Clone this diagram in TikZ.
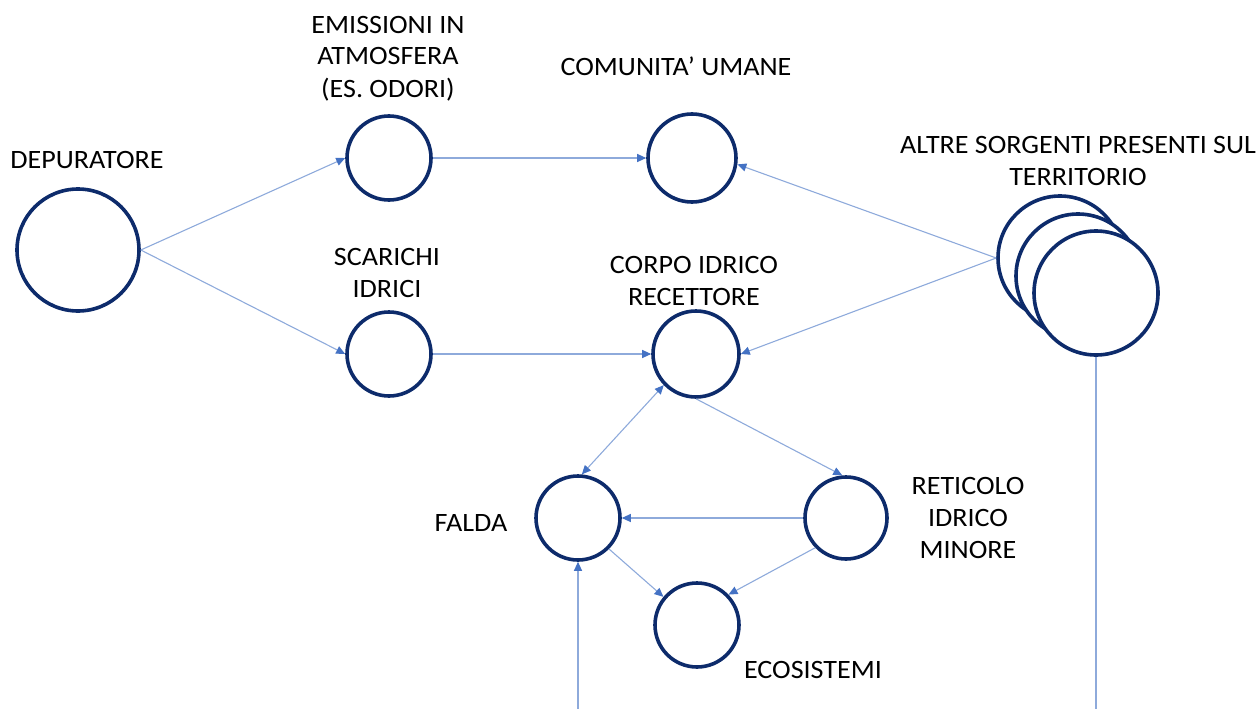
\documentclass[tikz,border=0pt]{standalone}
\usepackage{fontspec}
\setmainfont{Carlito}[FakeStretch=1.06]
\usetikzlibrary{arrows.meta}
\definecolor{navy}{HTML}{0D2B6B}
\definecolor{lnblue}{HTML}{8EAADB}
\definecolor{arrblue}{HTML}{4472C4}
\begin{document}
\begin{tikzpicture}[x=1pt,y=-1pt,
  ring/.style={circle,draw=navy,line width=3.6pt,inner sep=0pt,minimum size=#1},
  lbl/.style={font=\fontsize{26.5}{32}\selectfont,align=center,anchor=base,inner sep=0pt,text=black},
  conn/.style={draw=lnblue,line width=1.1pt,-{Triangle[length=9pt,width=8pt,color=arrblue]}},
  bconn/.style={draw=lnblue,line width=1.1pt,{Triangle[length=9pt,width=8pt,color=arrblue]}-{Triangle[length=9pt,width=8pt,color=arrblue]}},
  plain/.style={draw=lnblue,line width=1.1pt}]
\useasboundingbox (0,0) rectangle (1258,709);
% circles
\node[ring=122pt] (dep) at (78,250) {};
\node[ring=84pt] (emi) at (389,158) {};
\node[ring=84pt] (sca) at (389,354) {};
\node[ring=88pt] (com) at (692,158) {};
\node[ring=86pt] (cor) at (696,354) {};
\node[ring=84pt] (fal) at (578,518) {};
\node[ring=82pt] (ret) at (846,518) {};
\node[ring=84pt] (eco) at (697,625) {};
\node[ring=124pt,fill=white] (alt1) at (1060,258) {};
\node[ring=124pt,fill=white] (alt2) at (1078,276) {};
\node[ring=124pt,fill=white] (alt3) at (1096,293) {};
% free ends
\coordinate (bfal) at (578,709);
\coordinate (balt) at (1096,709);
% labels (anchor = baseline of last line)
\node[lbl] (ldep) at (87,168) {DEPURATORE};
\node[lbl] (lemi) at (388,97) {EMISSIONI IN\\ATMOSFERA\\(ES. ODORI)};
\node[lbl] (lcom) at (676,75) {COMUNITA' UMANE};
\node[lbl] (lalt) at (1078,185) {ALTRE SORGENTI PRESENTI SUL\\TERRITORIO};
\node[lbl] (lsca) at (387,297) {SCARICHI\\IDRICI};
\node[lbl] (lcor) at (694,305) {CORPO IDRICO\\RECETTORE};
\node[lbl] (lfal) at (471,531) {FALDA};
\node[lbl] (lret) at (968,558) {RETICOLO\\IDRICO\\MINORE};
\node[lbl] (leco) at (813,678) {ECOSISTEMI};
% connectors
\draw[conn] (dep.east) -- (emi.west);
\draw[conn] (dep.east) -- (sca.west);
\draw[conn] (emi.east) -- (com.west);
\draw[conn] (sca.east) -- (cor.west);
\draw[conn] (alt1.west) -- (com.-8);
\draw[conn] (alt1.west) -- (cor.east);
\draw[bconn] (cor.224) -- (fal.85);
\draw[conn] (cor.south) -- (ret.95);
\draw[conn] (ret.west) -- (fal.east);
\draw[conn] (fal.-45) -- (eco.140);
\draw[conn] (ret.224) -- (eco.44);
\draw[conn] (bfal) -- (fal.south);
\draw[plain] (alt3.south) -- (balt);
\end{tikzpicture}
\end{document}
